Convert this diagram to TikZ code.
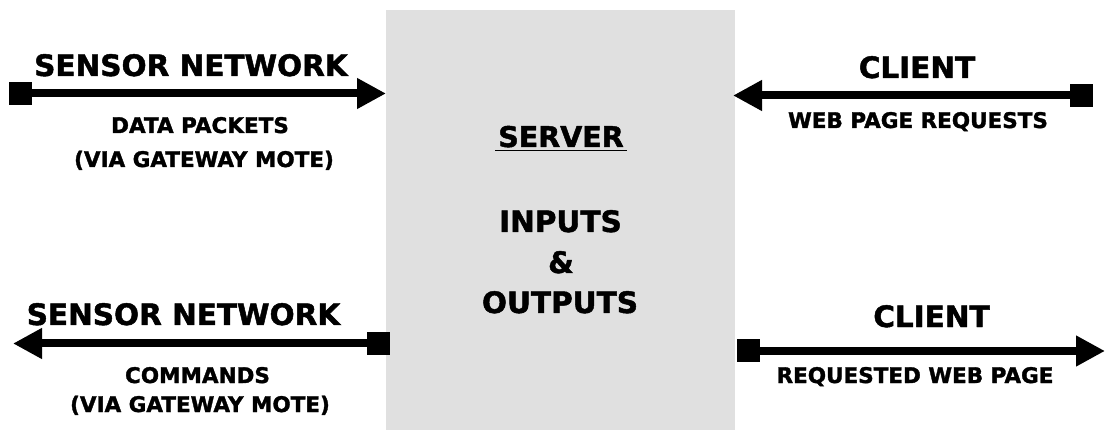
\documentclass[tikz,border=0pt]{standalone}
\usepackage{fontspec}
\setmainfont{DejaVu Sans}[BoldFeatures={FakeBold=1.6}]
\usetikzlibrary{arrows.meta}
\definecolor{boxgray}{HTML}{E0E0E0}
\tikzset{
  flow/.style={line width=8pt, -{Triangle[length=29pt,width=29pt]}},
  endsq/.style={fill=black, minimum size=23pt, inner sep=0pt, outer sep=0pt},
  bigtxt/.style={font=\fontsize{29.5}{29.5}\selectfont\bfseries, anchor=base, inner sep=0pt},
  smalltxt/.style={font=\fontsize{21.5}{21.5}\selectfont\bfseries, anchor=base, inner sep=0pt},
}
\begin{document}
\begin{tikzpicture}[x=1pt,y=-1pt]
\useasboundingbox (0,0) rectangle (1106,430);

% server block
\node[fill=boxgray, minimum width=349pt, minimum height=420pt, inner sep=0pt, outer sep=0pt, anchor=north west] (srv) at (386,10) {};
\node[font=\fontsize{28.5}{28.5}\selectfont\bfseries, anchor=base, inner sep=0pt] (srvtitle) at (561,147) {SERVER};
\draw[line width=1.6pt] (495,150.5) -- (627,150.5);
\node[bigtxt] (inp) at (560.5,232) {INPUTS};
\node[bigtxt] (amp) at (561,273) {\&};
\node[bigtxt] (outp) at (560,313) {OUTPUTS};

% sensor network -> server
\node[endsq] (sqA) at (20.5,93.5) {};
\draw[flow] (sqA.center) -- (srv.west |- sqA.center);
\node[bigtxt] (snA) at (191,76) {SENSOR NETWORK};
\node[smalltxt] (dpA) at (200,133) {DATA PACKETS};
\node[smalltxt] (gwA) at (204,167) {(VIA GATEWAY MOTE)};

% client -> server
\node[endsq] (sqB) at (1081.5,95.5) {};
\coordinate (tipB) at (733,95.5);
\draw[flow] (sqB.center) -- (tipB);
\node[bigtxt] (clB) at (917,78) {CLIENT};
\node[smalltxt] (wrB) at (918,128) {WEB PAGE REQUESTS};

% server -> sensor network
\node[endsq] (sqC) at (378.5,343.5) {};
\coordinate (tipC) at (13,343.5);
\draw[flow] (sqC.center) -- (tipC);
\node[bigtxt] (snC) at (183.5,325) {SENSOR NETWORK};
\node[smalltxt] (cmC) at (197.5,383) {COMMANDS};
\node[smalltxt] (gwC) at (200,412) {(VIA GATEWAY MOTE)};

% server -> client
\node[endsq] (sqD) at (748.5,351) {};
\coordinate (tipD) at (1105,351);
\draw[flow] (sqD.center) -- (tipD);
\node[bigtxt] (clD) at (931.5,327) {CLIENT};
\node[smalltxt] (rwD) at (915,383) {REQUESTED WEB PAGE};
\end{tikzpicture}
\end{document}
